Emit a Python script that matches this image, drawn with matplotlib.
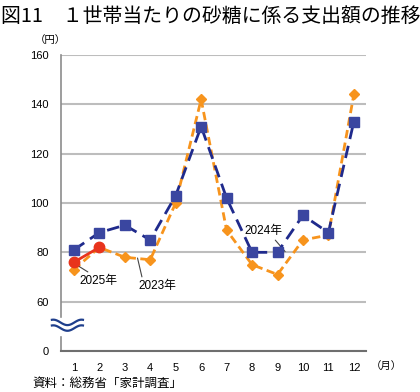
import numpy as np
import matplotlib.pyplot as plt

plt.rcParams['font.family'] = ['Liberation Sans', 'Noto Sans CJK JP', 'DejaVu Sans']

# data
months = [1, 2, 3, 4, 5, 6, 7, 8, 9, 10, 11, 12]
y2024 = [81, 88, 91, 85, 103, 131, 102, 80, 80, 95, 88, 133]
y2023 = [73, 82, 78, 77, 100, 142, 89, 75, 71, 85, 87, 144]
months2025 = [1, 2]
y2025 = [76, 82]
yticks = [40, 60, 80, 100, 120, 140, 160]
ytick_labels = ['0', '60', '80', '100', '120', '140', '160']

fig = plt.figure(figsize=(4.2, 3.92), dpi=100)
ax = fig.add_axes([0.145, 0.1046, 0.726, 0.7551])

ax.plot(months, y2023, color='#f7941d', linestyle=(0, (3, 1.6)), linewidth=2,
        marker='D', markersize=5.5, markerfacecolor='#f7941d',
        markeredgecolor='#f7941d', zorder=3)
ax.plot(months, y2024, color='#1f2a8c', linestyle=(0, (4.5, 2.5)), linewidth=2,
        marker='s', markersize=7, markerfacecolor='#3a46a0',
        markeredgecolor='#3a46a0', zorder=4)
ax.plot(months2025, y2025, color='#e8341c', linewidth=2,
        marker='o', markersize=7.5, markerfacecolor='#e8341c',
        markeredgecolor='#e8341c', zorder=5)

ax.set_xlim(0.49, 12.47)
ax.set_ylim(40, 160)
ax.set_xticks(months)
ax.set_yticks(yticks)
ax.set_yticklabels(ytick_labels)
ax.tick_params(length=0, labelsize=8, pad=9)
ax.grid(axis='y', color='#bdbdbd', linewidth=1.5, zorder=0)
ax.set_axisbelow(True)
for s in ['top', 'right']:
    ax.spines[s].set_visible(False)
ax.spines['left'].set_color('#8c8c8c')
ax.spines['bottom'].set_color('#6e6e6e')
ax.spines['left'].set_linewidth(1.2)
ax.spines['bottom'].set_linewidth(1.5)

# annotations
ax.annotate('2025年', xy=(1.0, 75.6), xytext=(1.2, 68.5), fontsize=8.5,
            ha='left', va='center',
            arrowprops=dict(arrowstyle='-', color='#444444', lw=0.8, shrinkA=0, shrinkB=0,
                            relpos=(0.35, 1.0)))
ax.annotate('2023年', xy=(3.5, 77.7), xytext=(3.55, 66.5), fontsize=8.5,
            ha='left', va='center',
            arrowprops=dict(arrowstyle='-', color='#444444', lw=0.8, shrinkA=0, shrinkB=0,
                            relpos=(0.1, 1.0)))
ax.annotate('2024年', xy=(9.3, 80.3), xytext=(7.7, 88.5), fontsize=8.5,
            ha='left', va='center',
            arrowprops=dict(arrowstyle='-', color='#444444', lw=0.8, shrinkA=0, shrinkB=0,
                            relpos=(0.75, 0.0)))

# axis break symbol
ax.add_patch(plt.Rectangle((0.3, 46.6), 0.4, 6.8, color='white', clip_on=False, zorder=6))
t = np.linspace(0, 1, 60)
bx = 0.136 + t * 1.22
for off in (51.6, 49.3):
    ax.plot(bx, off + 1.1 * np.sin(t * 2 * np.pi * 1.1 + 0.4 * np.pi), color='#1f3f8c',
            linewidth=1.6, clip_on=False, zorder=7)

fig.text(0.003, 0.957, '図11　１世帯当たりの砂糖に係る支出額の推移', fontsize=14.3,
         ha='left', va='center', family=['Noto Sans CJK JP'])
fig.text(0.12, 0.898, '（円）', fontsize=7.5, ha='center', va='center')
fig.text(0.92, 0.066, '（月）', fontsize=7.5, ha='center', va='center')
fig.text(0.078, 0.023, '資料：総務省「家計調査」', fontsize=9, ha='left', va='center',
         family=['Noto Sans CJK JP'])

fig.savefig('out.png', dpi=100)
